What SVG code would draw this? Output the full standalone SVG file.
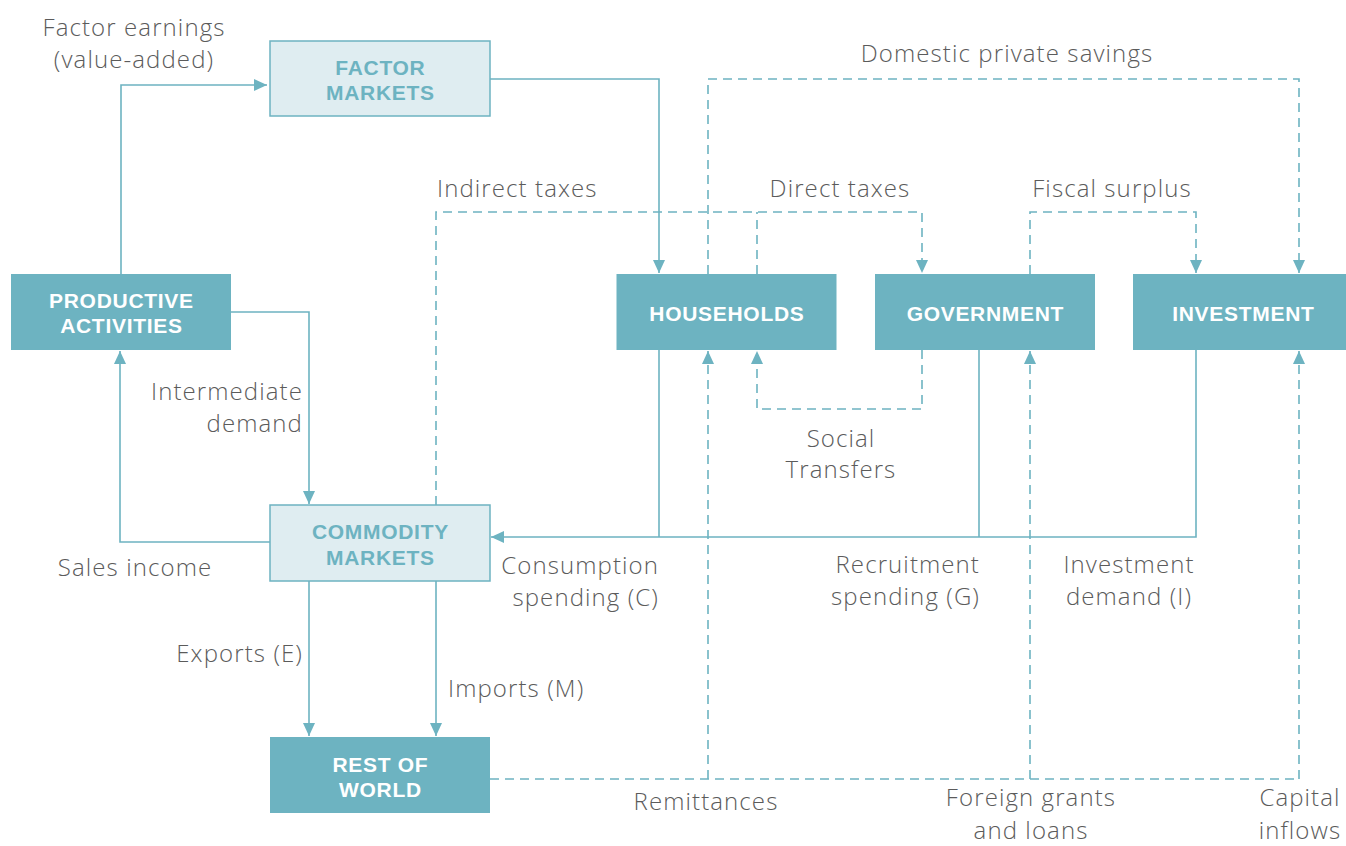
<svg xmlns="http://www.w3.org/2000/svg" width="1346" height="846" viewBox="0 0 1346 846">
<style>
.dark{fill:#6db3c1;stroke:none}
.light{fill:#dfedf1;stroke:#6db3c1;stroke-width:1.5}
.bt{font-family:"Liberation Sans",Arial,sans-serif;font-weight:700;font-size:21px;text-anchor:middle;letter-spacing:0.7px}
.bw{fill:#ffffff}
.bc{fill:#6db3c1}
.lb{font-family:"Open Sans","Liberation Sans",sans-serif;font-weight:300;font-size:24px;fill:#5b5b5b;letter-spacing:1.1px}
.m{text-anchor:middle}
.e{text-anchor:end}
.s{fill:none;stroke:#6db3c1;stroke-width:1.6}
.d{fill:none;stroke:#6db3c1;stroke-width:1.6;stroke-dasharray:9 6}
</style>
<defs>
<marker id="ah" markerUnits="userSpaceOnUse" markerWidth="14" markerHeight="12" refX="13" refY="6" orient="auto" viewBox="0 0 14 12">
<path d="M0,0 L13,6 L0,12 z" fill="#6db3c1"/>
</marker>
</defs>
<rect width="1346" height="846" fill="#ffffff"/>

<g id="connectors">
<path class="s" d="M121,274 V85 H267" marker-end="url(#ah)"/>
<path class="s" d="M490,79 H659 V273" marker-end="url(#ah)"/>
<path class="s" d="M231,312 H309 V504" marker-end="url(#ah)"/>
<path class="s" d="M270,542 H120 V351" marker-end="url(#ah)"/>
<path class="s" d="M309,581 V736" marker-end="url(#ah)"/>
<path class="s" d="M436,581 V736" marker-end="url(#ah)"/>
<path class="s" d="M1196,350 V537 H491" marker-end="url(#ah)"/>
<path class="s" d="M659,350 V537"/>
<path class="s" d="M979,350 V537"/>
<path class="d" d="M436,505 V212 H922 V273" marker-end="url(#ah)"/>
<path class="d" d="M757,274 V212"/>
<path class="d" d="M922,350 V409 H757 V351" marker-end="url(#ah)"/>
<path class="d" d="M1030,274 V212 H1196 V273" marker-end="url(#ah)"/>
<path class="d" d="M708,274 V79 H1299 V273" marker-end="url(#ah)"/>
<path class="d" d="M490,779 H1299"/>
<path class="d" d="M708,779 V351" marker-end="url(#ah)"/>
<path class="d" d="M1030,779 V351" marker-end="url(#ah)"/>
<path class="d" d="M1299,779 V351" marker-end="url(#ah)"/>
</g>

<g id="factor-markets">
<rect class="light" x="270" y="41" width="220" height="75"/>
<text class="bt bc" x="380.4" y="75">FACTOR</text>
<text class="bt bc" x="380.4" y="100">MARKETS</text>
</g>
<g id="productive-activities">
<rect class="dark" x="11" y="274" width="220" height="76"/>
<text class="bt bw" x="121.4" y="308">PRODUCTIVE</text>
<text class="bt bw" x="121.4" y="333">ACTIVITIES</text>
</g>
<g id="households">
<rect class="dark" x="616.5" y="274" width="220" height="76"/>
<text class="bt bw" x="726.9" y="321">HOUSEHOLDS</text>
</g>
<g id="government">
<rect class="dark" x="875" y="274" width="220" height="76"/>
<text class="bt bw" x="985.4" y="321">GOVERNMENT</text>
</g>
<g id="investment">
<rect class="dark" x="1133" y="274" width="220" height="76"/>
<text class="bt bw" x="1243.4" y="321">INVESTMENT</text>
</g>
<g id="commodity-markets">
<rect class="light" x="270" y="505" width="220" height="76"/>
<text class="bt bc" x="380.4" y="539">COMMODITY</text>
<text class="bt bc" x="380.4" y="565">MARKETS</text>
</g>
<g id="rest-of-world">
<rect class="dark" x="270" y="737" width="220" height="76"/>
<text class="bt bw" x="380.4" y="772">REST OF</text>
<text class="bt bw" x="380.4" y="797">WORLD</text>
</g>

<g id="labels">
<text class="lb m" x="134" y="36">Factor earnings</text>
<text class="lb m" x="134" y="68">(value-added)</text>
<text class="lb m" x="1007" y="62">Domestic private savings</text>
<text class="lb" x="437" y="197">Indirect taxes</text>
<text class="lb m" x="840" y="197">Direct taxes</text>
<text class="lb m" x="1112" y="197">Fiscal surplus</text>
<text class="lb e" x="303" y="400">Intermediate</text>
<text class="lb e" x="303" y="432">demand</text>
<text class="lb m" x="841" y="447">Social</text>
<text class="lb m" x="841" y="478">Transfers</text>
<text class="lb m" x="135" y="576">Sales income</text>
<text class="lb e" x="659" y="574">Consumption</text>
<text class="lb e" x="659" y="606">spending (C)</text>
<text class="lb e" x="980" y="573">Recruitment</text>
<text class="lb e" x="980" y="605">spending (G)</text>
<text class="lb m" x="1129" y="573">Investment</text>
<text class="lb m" x="1129" y="605">demand (I)</text>
<text class="lb e" x="303" y="662">Exports (E)</text>
<text class="lb" x="448" y="697">Imports (M)</text>
<text class="lb m" x="706" y="810">Remittances</text>
<text class="lb m" x="1031" y="806">Foreign grants</text>
<text class="lb m" x="1031" y="839">and loans</text>
<text class="lb m" x="1300" y="806">Capital</text>
<text class="lb m" x="1300" y="839">inflows</text>
</g>
</svg>
